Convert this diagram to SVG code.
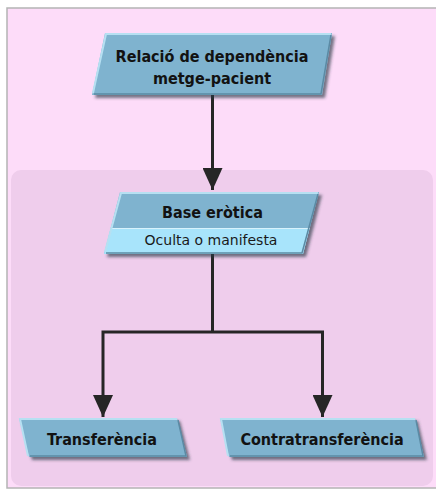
<svg xmlns="http://www.w3.org/2000/svg" width="436" height="489" viewBox="0 0 436 489">
  <defs>
    <filter id="sh" x="-10%" y="-20%" width="130%" height="160%">
      <feDropShadow dx="3" dy="3" stdDeviation="1.5" flood-color="#2a3a44" flood-opacity="0.65"/>
    </filter>
    <marker id="ah" viewBox="0 0 22 20" refX="22" refY="10" markerWidth="22" markerHeight="20" markerUnits="userSpaceOnUse" orient="auto-start-reverse">
      <path d="M0,0 L22,10 L0,20 Z" fill="#262626"/>
    </marker>
    <style>
      .box { fill: #7fb3cf; }
      .low { fill: #a8e4fb; }
      .hi { fill: none; stroke: #b6e0f2; stroke-width: 2; }
      .dk { fill: none; stroke: #5b8aa4; stroke-width: 1.5; }
      .sep { stroke: #d8f2fc; stroke-width: 1.2; }
      .t { font-family: "DejaVu Sans Condensed", "DejaVu Sans", sans-serif; font-stretch: condensed; font-weight: bold; font-size: 16px; fill: #121212; text-anchor: middle; }
      .s { font-family: "DejaVu Sans", sans-serif; font-size: 14px; fill: #1a1a1a; text-anchor: middle; }
      .c { fill: none; stroke: #262626; stroke-width: 3; }
    </style>
  </defs>

  <rect x="0" y="0" width="436" height="489" fill="#ffffff"/>
  <rect x="7" y="8" width="432" height="480" fill="#fddcf9" stroke="#b4b4b4" stroke-width="1.5"/>
  <rect x="11" y="170" width="422" height="316" rx="10" ry="10" fill="#efcdec"/>

  <g id="connectors">
    <line class="c" x1="212.5" y1="95" x2="212.5" y2="190" marker-end="url(#ah)"/>
    <polyline class="c" points="212.5,254 212.5,332"/>
    <polyline class="c" points="103,417 103,332 322.5,332 322.5,417" marker-start="url(#ah)" marker-end="url(#ah)"/>
  </g>

  <g id="node-relacio">
    <polygon class="box" points="105,33 332,33 322,95 92,95" filter="url(#sh)"/>
    <polyline class="hi" points="93,93 106,34 331,34"/>
    <polyline class="dk" points="331,35 321,94 94,94"/>
    <text class="t" x="212" y="62">Relació de dependència</text>
    <text class="t" x="212" y="84">metge-pacient</text>
  </g>

  <g id="node-base">
    <polygon class="box" points="120,192 319,192 303,254 104,254" filter="url(#sh)"/>
    <polygon class="low" points="110.7,228 309.7,228 303,254 104,254"/>
    <line class="sep" x1="110.7" y1="228.5" x2="309.7" y2="228.5"/>
    <polyline class="hi" points="105,252 121,193 318,193"/>
    <polyline class="dk" points="318,194 302,253 106,253"/>
    <text class="t" x="212.5" y="218">Base eròtica</text>
    <text class="s" x="211" y="245">Oculta o manifesta</text>
  </g>

  <g id="node-transferencia">
    <polygon class="box" points="19,418 177,418 187,457 29,457" filter="url(#sh)"/>
    <polyline class="hi" points="28,456 20,419 177,419"/>
    <polyline class="dk" points="178,420 186,456 30,456"/>
    <text class="t" x="102" y="445">Transferència</text>
  </g>

  <g id="node-contratransferencia">
    <polygon class="box" points="220,418 415,418 424,457 229,457" filter="url(#sh)"/>
    <polyline class="hi" points="228,456 221,419 415,419"/>
    <polyline class="dk" points="416,420 423,456 230,456"/>
    <text class="t" x="322" y="445">Contratransferència</text>
  </g>
</svg>
